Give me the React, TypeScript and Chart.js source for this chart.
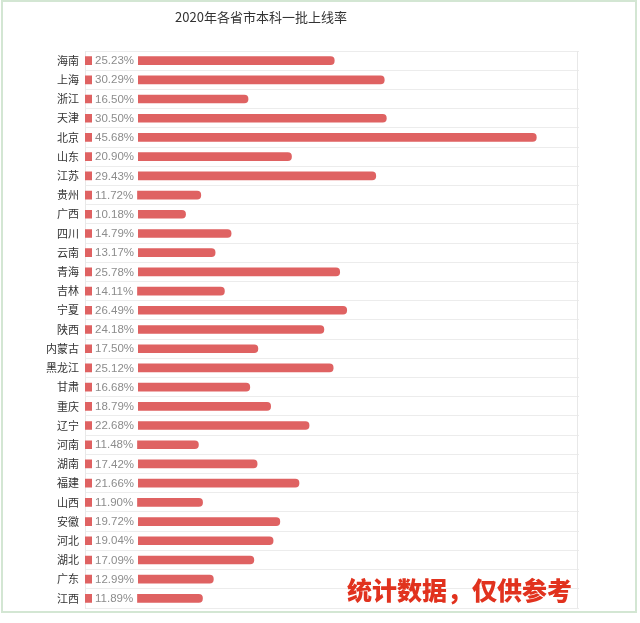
import React, { useEffect, useRef } from "react";
import { Chart, registerables } from "chart.js";

Chart.register(...registerables);

const provinces = ["海南", "上海", "浙江", "天津", "北京", "山东", "江苏", "贵州", "广西", "四川", "云南", "青海", "吉林", "宁夏", "陕西", "内蒙古", "黑龙江", "甘肃", "重庆", "辽宁", "河南", "湖南", "福建", "山西", "安徽", "河北", "湖北", "广东", "江西"];
const rates = [25.23, 30.29, 16.5, 30.5, 45.68, 20.9, 29.43, 11.72, 10.18, 14.79, 13.17, 25.78, 14.11, 26.49, 24.18, 17.5, 25.12, 16.68, 18.79, 22.68, 11.48, 17.42, 21.66, 11.9, 19.72, 19.04, 17.09, 12.99, 11.89];
const titleText = "2020年各省市本科一批上线率";
const watermarkText = "统计数据，仅供参考";

const decorPlugin = {
  id: "decor",
  beforeDraw(chart: any) {
    const { ctx, width, height } = chart;
    ctx.save();
    ctx.fillStyle = "#ffffff";
    ctx.fillRect(0, 0, width, height);
    ctx.strokeStyle = "#d3e6d3";
    ctx.lineWidth = 2;
    ctx.strokeRect(2, 1, 634, 611);
    ctx.restore();
  },
  afterDatasetsDraw(chart: any) {
    const { ctx, chartArea } = chart;
    const meta = chart.getDatasetMeta(0);
    ctx.save();
    ctx.font = "11.5px 'Liberation Sans', Arial, sans-serif";
    ctx.textBaseline = "middle";
    meta.data.forEach((bar: any, i: number) => {
      const txt = rates[i].toFixed(2) + "%";
      const w = ctx.measureText(txt).width;
      const x0 = bar.base + 7;
      ctx.fillStyle = "#ffffff";
      ctx.fillRect(x0, bar.y - 6, w + 7, 12);
      ctx.fillStyle = "#8c8c8c";
      ctx.textAlign = "left";
      ctx.fillText(txt, x0 + 3, bar.y + 0.5);
    });
    ctx.strokeStyle = "#e8e8e8";
    ctx.lineWidth = 1;
    ctx.beginPath();
    ctx.moveTo(chartArea.right - 1.5, chartArea.top);
    ctx.lineTo(chartArea.right - 1.5, chartArea.bottom);
    ctx.stroke();
    ctx.restore();
  },
  afterDraw(chart: any) {
    const { ctx } = chart;
    ctx.save();
    ctx.fillStyle = "#333333";
    ctx.font = "13px 'Noto Sans CJK SC', sans-serif";
    ctx.textAlign = "center";
    ctx.textBaseline = "middle";
    ctx.fillText(titleText, 261, 17);
    ctx.fillStyle = "#e1321e";
    ctx.font = "900 25px 'Noto Sans CJK SC', sans-serif";
    ctx.textAlign = "left";
    ctx.fillText(watermarkText, 347, 590);
    ctx.restore();
  },
};

export default function App() {
  const ref = useRef<HTMLCanvasElement>(null);
  useEffect(() => {
    if (!ref.current) return;
    const chart = new Chart(ref.current, {
      type: "bar",
      data: {
        labels: provinces,
        datasets: [
          {
            data: rates,
            backgroundColor: "#df6262",
            barThickness: 8,
            borderRadius: 4,
          },
        ],
      },
      options: {
        indexAxis: "y",
        animation: false,
        responsive: false,
        devicePixelRatio: 1,
        layout: { padding: { top: 51, right: 61, bottom: 15, left: 0 } },
        plugins: {
          legend: { display: false },
          tooltip: { enabled: false },
          title: { display: false },
        },
        scales: {
          x: { display: false, min: 0, max: 50 },
          y: {
            afterFit: (scale: any) => {
              scale.width = 85;
            },
            grid: { color: "#ececec", drawTicks: false, offset: true },
            border: { display: true, color: "#e8e8e8" },
            ticks: {
              color: "#333333",
              padding: 6,
              font: { size: 11, family: "'Noto Sans CJK SC', sans-serif" },
            },
          },
        },
      },
      plugins: [decorPlugin],
    } as any);
    return () => chart.destroy();
  }, []);
  return (
    <div style={{ position: "absolute", left: 0, top: 0, width: 640, height: 623 }}>
      <canvas ref={ref} width={640} height={623} />
    </div>
  );
}
